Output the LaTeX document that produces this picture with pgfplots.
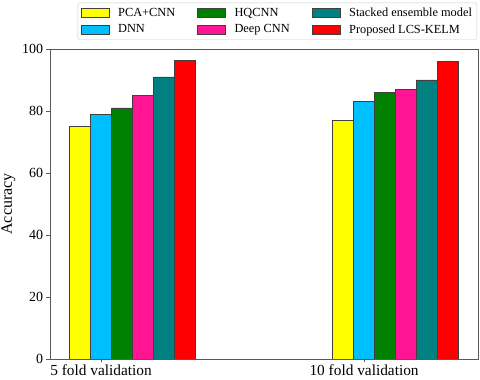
\documentclass[border=0pt]{standalone}
\usepackage{fontspec}
\setmainfont{Liberation Serif}
\usepackage{pgfplots}
\pgfplotsset{compat=1.18}

\definecolor{cyellow}{RGB}{255,255,0}
\definecolor{cblue}{RGB}{0,191,255}
\definecolor{cgreen}{RGB}{0,128,0}
\definecolor{cpink}{RGB}{255,20,147}
\definecolor{cteal}{RGB}{0,128,128}
\definecolor{cred}{RGB}{255,0,0}

\begin{document}
\begin{tikzpicture}
\begin{axis}[
    scale only axis,
    width=428bp, height=310bp,
    ybar, bar shift=0pt, bar width=0.08,
    xmin=-0.194, xmax=1.433,
    ymin=0, ymax=100,
    xtick={0,1},
    xticklabels={5 fold validation, 10 fold validation},
    ytick={0,20,40,60,80,100},
    tick pos=left, tick align=outside,
    major tick length=3.5bp,
    axis line style={black!65, line width=0.8bp},
    every tick/.style={black!65, line width=0.8bp},
    /pgf/number format/assume math mode=true,
    x tick label style={font=\fontsize{15.4}{18}\selectfont, yshift=1bp},
    y tick label style={font=\fontsize{14}{16}\selectfont},
    ylabel={Accuracy},
    ylabel style={font=\fontsize{16}{18}\selectfont},
    every axis plot/.append style={draw=black!75, line width=0.7bp},
    legend columns=3,
    legend cell align=left,
    legend image code/.code={%
        \path[draw=none, fill=none] (0bp,0bp) (35bp,0bp);
        \draw[#1, sharp corners] (0bp,-4.5bp) rectangle (28bp,4.5bp);},
    legend style={at={(0.998,1.03)}, anchor=south east,
        draw=black!20, rounded corners=2bp,
        font=\fontsize{12.4}{14}\selectfont,
        row sep=2.5bp, inner sep=3bp,
        /tikz/every even column/.append style={column sep=20bp}},
]
\addplot[fill=cyellow] coordinates {(-0.08,75) (0.92,77)};
\addlegendentry{PCA+CNN}
\addplot[fill=cgreen] coordinates {(0.08,81) (1.08,86)};
\addlegendentry{HQCNN}
\addplot[fill=cteal] coordinates {(0.24,91) (1.24,90)};
\addlegendentry{Stacked ensemble model}
\addplot[fill=cblue] coordinates {(0,79) (1,83)};
\addlegendentry{DNN}
\addplot[fill=cpink] coordinates {(0.16,85) (1.16,87)};
\addlegendentry{Deep CNN}
\addplot[fill=cred] coordinates {(0.32,96.3) (1.32,96)};
\addlegendentry{Proposed LCS-KELM}
\end{axis}
\pgfresetboundingbox
\path[use as bounding box] (-50bp,-21bp) rectangle (430bp,359bp);
\end{tikzpicture}
\end{document}
